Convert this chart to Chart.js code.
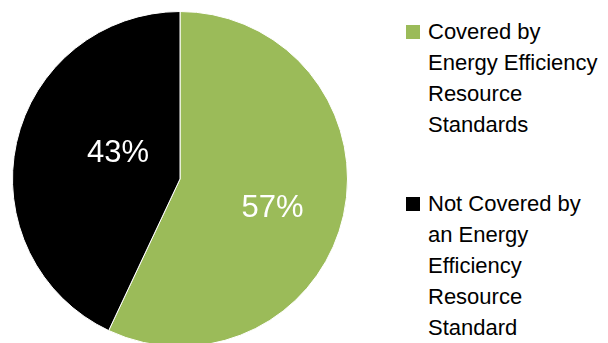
<!DOCTYPE html>
<html>
<head>
<meta charset="utf-8">
<script src="https://cdn.jsdelivr.net/npm/chart.js@4/dist/chart.umd.min.js"></script>
<style>
  html, body { margin: 0; padding: 0; width: 608px; height: 343px; overflow: hidden; background: #fff; }
  #wrap { position: absolute; left: 0; top: 0; width: 360px; height: 358px; }
  #legend { position: absolute; left: 406px; top: 0; font-family: "Liberation Sans", Arial, sans-serif; font-size: 22px; color: #000; }
  .item { position: absolute; left: 0; white-space: nowrap; line-height: 31px; }
  .sw { position: absolute; left: 0; width: 14px; height: 14px; }
  .txt { position: absolute; left: 22px; top: 0; }
</style>
</head>
<body>
<div id="wrap"><canvas id="c" width="360" height="358"></canvas></div>
<div id="legend"></div>
<script>
const categories = [
  ["Covered by", "Energy Efficiency", "Resource", "Standards"],
  ["Not Covered by", "an Energy", "Efficiency", "Resource", "Standard"]
];
const values = [57, 43];
const labels = ["57%", "43%"];
const colors = ["#9BBB59", "#000000"];

const labelPlugin = {
  id: 'sliceLabels',
  afterDatasetsDraw(chart) {
    const ctx = chart.ctx;
    const meta = chart.getDatasetMeta(0);
    const radFrac = [0.57, 0.41];
    const angShift = [0.07, 0.19];
    ctx.save();
    ctx.fillStyle = '#fff';
    ctx.font = '31px "Liberation Sans", Arial, sans-serif';
    ctx.textAlign = 'center';
    ctx.textBaseline = 'middle';
    meta.data.forEach((arc, i) => {
      const p = arc.getProps(['x', 'y', 'startAngle', 'endAngle', 'outerRadius'], true);
      const mid = (p.startAngle + p.endAngle) / 2 + angShift[i];
      const r = p.outerRadius * radFrac[i];
      ctx.fillText(labels[i], p.x + Math.cos(mid) * r + 1, p.y + Math.sin(mid) * r + 2);
    });
    ctx.restore();
  }
};

new Chart(document.getElementById('c'), {
  type: 'pie',
  data: {
    labels: categories.map(c => c.join(' ')),
    datasets: [{
      data: values,
      backgroundColor: colors,
      borderColor: '#ffffff',
      borderWidth: 1
    }]
  },
  options: {
    responsive: false,
    animation: false,
    layout: { padding: { left: 12, right: 12, top: 11, bottom: 11 } },
    plugins: { legend: { display: false }, tooltip: { enabled: false } }
  },
  plugins: [labelPlugin]
});

// HTML legend
const legend = document.getElementById('legend');
const tops = [16, 188];
categories.forEach((lines, i) => {
  const item = document.createElement('div');
  item.className = 'item';
  item.style.top = tops[i] + 'px';
  const sw = document.createElement('div');
  sw.className = 'sw';
  sw.style.background = colors[i];
  sw.style.top = '9px';
  const t = document.createElement('div');
  t.className = 'txt';
  t.innerHTML = lines.join('<br>');
  item.appendChild(sw);
  item.appendChild(t);
  legend.appendChild(item);
});
</script>
</body>
</html>
